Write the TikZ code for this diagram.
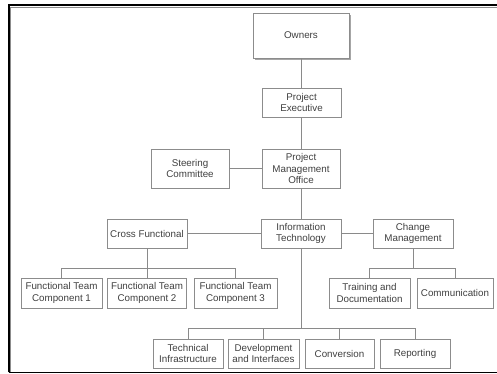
\documentclass[tikz,border=0pt]{standalone}
\usepackage{fontspec}
\setmainfont{Liberation Sans}
\begin{document}
\begin{tikzpicture}[x=1pt,y=-1pt,
  box/.style={draw=boxgray,line width=0.7pt,fill=white,inner sep=0pt,align=center,
    text=txtgray,font=\fontsize{9.8}{11.3}\selectfont,anchor=center},
  conn/.style={draw=linegray,line width=0.7pt}]
\definecolor{boxgray}{HTML}{8C8C8C}
\definecolor{linegray}{HTML}{8A8A8A}
\definecolor{txtgray}{HTML}{404040}
\useasboundingbox (0,0) rectangle (497,374);
\fill[white] (0,0) rectangle (497,374);
% outer frame
\draw[black!45,line width=0.6pt] (10.5,372) -- (10.5,7.5) -- (505,7.5);
\draw[black,line width=2pt] (8.5,372) -- (8.5,5.5) -- (505,5.5);
\draw[black,line width=1.5pt] (8.5,372.3) -- (505,372.3);
% Owners with shadow
\fill[black!35] (255,15) rectangle (351,60);
\node[box,minimum width=96pt,minimum height=45pt] (own) at (301,35.5) {Owners};
\node[box,minimum width=79pt,minimum height=29pt] (pe) at (301.5,102.5) {Project\\Executive};
\node[box,minimum width=78pt,minimum height=39pt] (pmo) at (301,168.5) {Project\\Management\\Office};
\node[box,minimum width=78pt,minimum height=39pt] (sc) at (190,168.5) {Steering\\Committee};
\node[box,minimum width=80pt,minimum height=29pt] (cf) at (147,233.5) {Cross Functional};
\node[box,minimum width=80pt,minimum height=29pt] (it) at (301,233.5) {Information\\Technology};
\node[box,minimum width=80pt,minimum height=29pt] (cm) at (413,233.5) {Change\\Management};
\node[box,minimum width=81pt,minimum height=30pt] (ft1) at (61.5,293) {Functional Team\\Component 1};
\node[box,minimum width=79pt,minimum height=30pt] (ft2) at (147,293) {Functional Team\\Component 2};
\node[box,minimum width=83pt,minimum height=30pt] (ft3) at (235.5,293) {Functional Team\\Component 3};
\node[box,minimum width=81pt,minimum height=30pt] (td) at (369.5,293) {Training and\\Documentation};
\node[box,minimum width=76pt,minimum height=30pt] (com) at (455,293) {Communication};
\node[box,minimum width=70pt,minimum height=29pt] (ti) at (188,353.5) {Technical\\Infrastructure};
\node[box,minimum width=71pt,minimum height=29pt] (dev) at (263.5,353.5) {Development\\and Interfaces};
\node[box,minimum width=69pt,minimum height=29pt] (conv) at (339.5,353.5) {Conversion};
\node[box,minimum width=70pt,minimum height=29pt] (rep) at (415,353.5) {Reporting};
% bar levels
\coordinate (cfbar) at (147,268);
\coordinate (cmbar) at (413,268);
\coordinate (itbar) at (301,328.5);
% connectors
\draw[conn] (own.south) -- (pe.north -| own.south);
\draw[conn] (pe.south -| pmo.north) -- (pmo.north);
\draw[conn] (sc.east) -- (pmo.west);
\draw[conn] (pmo.south) -- (it.north);
\draw[conn] (cf.east) -- (it.west);
\draw[conn] (it.east) -- (cm.west);
\draw[conn] (cf.south) -- (ft2.north);
\draw[conn] (ft1.north) -- (ft1.north |- cfbar) -- (ft3.north |- cfbar) -- (ft3.north);
\draw[conn] (cm.south) -- (cmbar);
\draw[conn] (td.north) -- (td.north |- cmbar) -- (com.north |- cmbar) -- (com.north);
\draw[conn] (it.south) -- (itbar);
\draw[conn] (ti.north) -- (ti.north |- itbar) -- (rep.north |- itbar) -- (rep.north);
\draw[conn] (dev.north) -- (dev.north |- itbar);
\draw[conn] (conv.north) -- (conv.north |- itbar);
\end{tikzpicture}
\end{document}
